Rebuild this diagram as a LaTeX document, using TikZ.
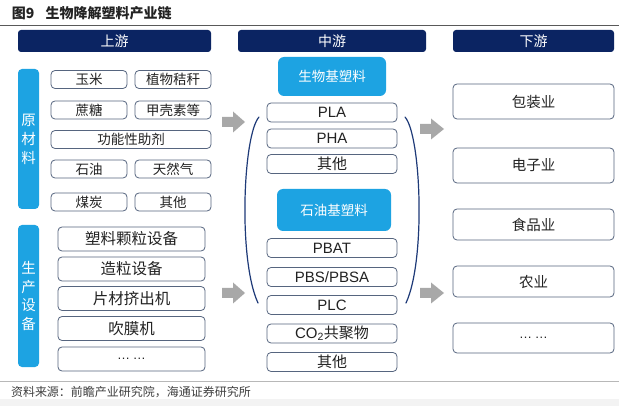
\documentclass[tikz,border=0pt]{standalone}
\usepackage{fontspec}
\setmainfont{Liberation Sans}
\newfontfamily\cjk{Noto Sans CJK SC}
\definecolor{navy}{HTML}{0B2462}
\definecolor{lblue}{HTML}{1DA3E2}
\definecolor{bordercol}{HTML}{56657F}
\definecolor{txtcol}{HTML}{222222}
\definecolor{arrowgray}{HTML}{A8A8A8}
\definecolor{brk}{HTML}{1E3A78}
\definecolor{srcgray}{HTML}{404040}
\definecolor{stripgray}{HTML}{F3F3F3}
\tikzset{
  base/.style={inner sep=0pt, outer sep=0pt},
  box/.style={base, draw=bordercol, line width=0.8pt, rounded corners=4pt, fill=white, text=txtcol},
  hdr/.style={base, fill=navy, rounded corners=3pt, text=white, font=\cjk\fontsize{14}{14}\selectfont, minimum height=22pt},
  lb/.style={base, fill=lblue, rounded corners=6pt, text=white},
  rawbox/.style={box, minimum width=76pt, minimum height=18pt, font=\cjk\fontsize{13.5}{14}\selectfont},
  eqbox/.style={box, minimum width=147pt, minimum height=24pt, font=\cjk\fontsize{15.5}{16}\selectfont},
  midbox/.style={box, minimum width=130pt, minimum height=19pt, font=\fontsize{15}{15}\selectfont},
  dbox/.style={box, minimum width=161pt, font=\cjk\fontsize{14.5}{15}\selectfont},
  dots/.style={font=\fontsize{13}{13}\selectfont},
  bracket/.style={draw=brk, line width=1.2pt, line cap=round},
  garrow/.style={fill=arrowgray},
}
\begin{document}
\begin{tikzpicture}[x=1pt,y=-1pt]
\useasboundingbox (0,0) rectangle (619,406);
\fill[white] (0,0) rectangle (619,406);
\fill[stripgray] (0,399) rectangle (619,406);

% title
\node[base, anchor=west, font=\cjk\bfseries\fontsize{14}{14}\selectfont, text=txtcol] (title) at (12,13) {图9\hspace{11pt}生物降解塑料产业链};
\draw[draw=black!65, line width=0.8pt] (0,25) -- (619,25);

% headers
\node[hdr, minimum width=193pt] (up) at (114.5,41) {上游};
\node[hdr, minimum width=188pt] (mid) at (332,41) {中游};
\node[hdr, minimum width=161pt] (down) at (533.5,41) {下游};

% vertical labels
\node[lb, rounded corners=4pt, minimum width=21pt, minimum height=140pt, align=center, font=\cjk\fontsize{14.5}{19}\selectfont] (raw) at (28.5,139) {原\\材\\料};
\node[lb, rounded corners=4pt, minimum width=21pt, minimum height=142pt, align=center, font=\cjk\fontsize{14.5}{18.7}\selectfont] (equip) at (28.5,296) {生\\产\\设\\备};

% raw materials
\node[rawbox] (r1) at (89,79.5) {玉米};
\node[rawbox] (r2) at (173,79.5) {植物秸秆};
\node[rawbox] (r3) at (89,110) {蔗糖};
\node[rawbox] (r4) at (173,110) {甲壳素等};
\node[rawbox, minimum width=160pt] (r5) at (131,139.5) {功能性助剂};
\node[rawbox] (r6) at (89,169) {石油};
\node[rawbox] (r7) at (173,169) {天然气};
\node[rawbox] (r8) at (89,202) {煤炭};
\node[rawbox] (r9) at (173,202) {其他};

% equipment
\node[eqbox] (e1) at (131.5,239) {塑料颗粒设备};
\node[eqbox] (e2) at (131.5,269) {造粒设备};
\node[eqbox] (e3) at (131.5,298.5) {片材挤出机};
\node[eqbox] (e4) at (131.5,328.5) {吹膜机};
\node[eqbox, dots] (e5) at (131.5,359) {…\hspace{3pt}…};

% midstream
\node[lb, minimum width=108pt, minimum height=39pt, font=\cjk\fontsize{13.5}{14}\selectfont] (bio) at (332,76.5) {生物基塑料};
\node[midbox] (pla) at (332,112.5) {PLA};
\node[midbox] (pha) at (332,138.5) {PHA};
\node[midbox, font=\cjk\fontsize{15}{15}\selectfont] (o1) at (332,164) {其他};
\node[lb, minimum width=114pt, minimum height=42pt, font=\cjk\fontsize{13.5}{14}\selectfont] (pet) at (334,210) {石油基塑料};
\node[midbox] (pbat) at (332,248) {PBAT};
\node[midbox] (pbs) at (332,277) {PBS/PBSA};
\node[midbox] (plc) at (332,305) {PLC};
\node[midbox] (co2) at (332,333.5) {CO\textsubscript{2}{\cjk 共聚物}};
\node[midbox, font=\cjk\fontsize{15}{15}\selectfont] (o2) at (332,362) {其他};

% downstream
\node[dbox, minimum height=35pt] (d1) at (533.5,101.5) {包装业};
\node[dbox, minimum height=35pt] (d2) at (533.5,165.5) {电子业};
\node[dbox, minimum height=31pt] (d3) at (533.5,224.5) {食品业};
\node[dbox, minimum height=31pt] (d4) at (533.5,281.5) {农业};
\node[dbox, dots, minimum height=30pt] (d5) at (533.5,338) {…\hspace{3pt}…};

% brackets
\draw[bracket] (259,117) .. controls (243,135) and (238,260) .. (258,303);
\draw[bracket] (405,117) .. controls (421,135) and (426,260) .. (406,303);

% gray block arrows
\foreach \ax/\ay/\al in {222/122/23, 222/293/23, 420/129/24, 420/293/24}{
  \fill[garrow, shift={(\ax,\ay)}] (0,-5) -- (11,-5) -- (11,-10.5) -- (\al,0) -- (11,10.5) -- (11,5) -- (0,5) -- cycle;
}

% source
\draw[draw=black!28, line width=1.5pt] (0,381.5) -- (619,381.5);
\node[base, anchor=west, font=\cjk\fontsize{12}{12}\selectfont, text=srcgray] (src) at (11,392) {资料来源：前瞻产业研究院，海通证券研究所};
\end{tikzpicture}
\end{document}
